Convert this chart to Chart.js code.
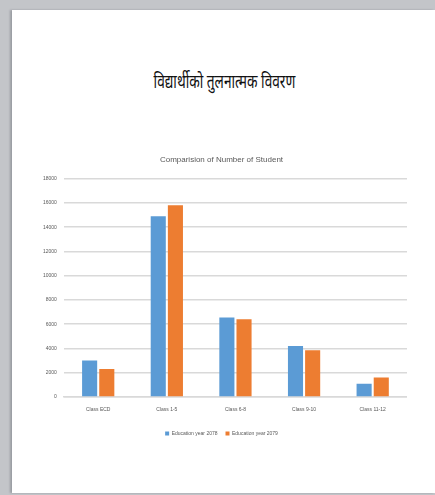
<!DOCTYPE html>
<html>
<head>
<meta charset="utf-8">
<script src="https://cdn.jsdelivr.net/npm/chart.js@4.4.0/dist/chart.umd.min.js"></script>
<style>
  html, body { margin: 0; padding: 0; width: 435px; height: 495px; overflow: hidden; background: #c3c5c9; }
  #page { position: absolute; left: 12px; top: 10px; width: 423px; height: 483px; background: #ffffff; box-shadow: -2px 0 2px #9a9da2; }
  #heading { position: absolute; left: 0; top: 58px; width: 423px; text-align: center; font-family: "Noto Sans", "DejaVu Sans", sans-serif; font-size: 19px; color: #111; transform: scaleX(0.72); transform-origin: 215px 0; }
  #wrap { position: absolute; left: 20px; top: 134px; width: 375px; height: 302px; }
</style>
</head>
<body>
<div id="page">
  <div id="heading">विद्यार्थीको तुलनात्मक विवरण</div>
  <div id="wrap"><canvas id="c"></canvas></div>
</div>
<script>
const categories = ["Class ECD", "Class 1-5", "Class 6-8", "Class 9-10", "Class 11-12"];
const seriesNames = ["Education year 2078", "Education year 2079"];
const year2078 = [3000, 14900, 6550, 4200, 1100];
const year2079 = [2300, 15800, 6400, 3850, 1600];
const yTicks = [0, 2000, 4000, 6000, 8000, 10000, 12000, 14000, 16000, 18000];
const fam = 'Liberation Sans Narrow, Liberation Sans, sans-serif';

new Chart(document.getElementById('c'), {
  type: 'bar',
  data: {
    labels: categories,
    datasets: [
      { label: seriesNames[0], data: year2078, backgroundColor: '#5b9bd5', borderWidth: 0 },
      { label: seriesNames[1], data: year2079, backgroundColor: '#ed7d31', borderWidth: 0 }
    ]
  },
  options: {
    responsive: true,
    maintainAspectRatio: false,
    animation: false,
    layout: { padding: { left: 4, right: 0, top: 0, bottom: 0 } },
    datasets: { bar: { categoryPercentage: 0.5, barPercentage: 0.88 } },
    plugins: {
      title: { display: true, text: 'Comparision of Number of Student', color: '#595959',
               font: { family: fam, size: 8, weight: 'normal' }, padding: { top: 11, bottom: 14 } },
      legend: { position: 'bottom', labels: { boxWidth: 4, boxHeight: 4, color: '#595959', padding: 8,
               font: { family: fam, size: 5 } } },
      tooltip: { enabled: false }
    },
    scales: {
      x: {
        grid: { display: false, drawTicks: false },
        border: { color: '#d9d9d9', width: 1.5 },
        ticks: { color: '#595959', padding: 10, font: { family: fam, size: 5 } }
      },
      y: {
        min: 0, max: 18000,
        afterBuildTicks: (axis) => { axis.ticks = yTicks.map(v => ({ value: v })); },
        grid: { color: '#d9d9d9', lineWidth: 1.5, drawTicks: false },
        border: { display: false },
        ticks: { color: '#595959', padding: 7, callback: (v) => String(v),
                 font: { family: fam, size: 5 } }
      }
    }
  }
});
</script>
</body>
</html>
